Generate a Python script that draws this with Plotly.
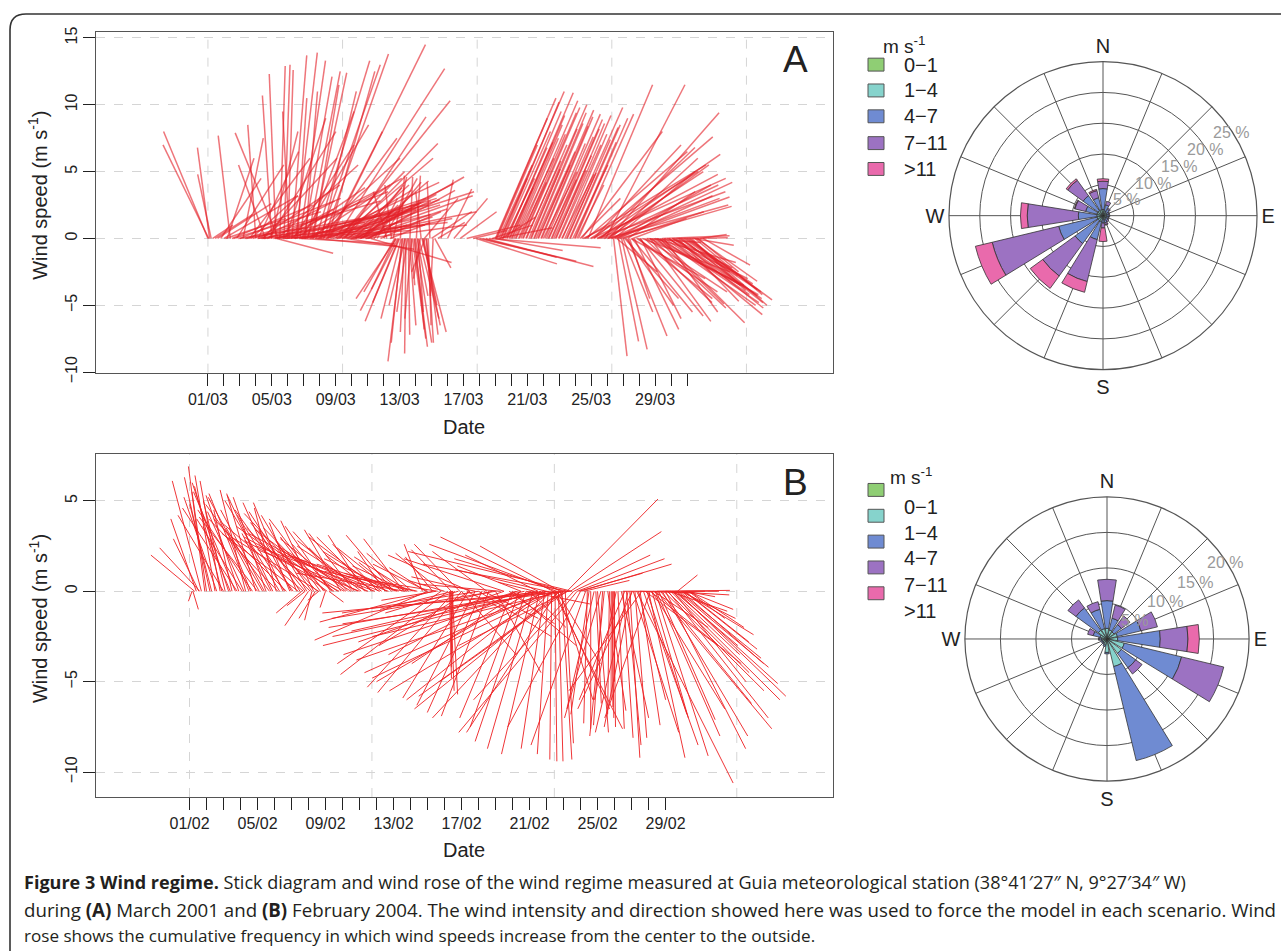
import math
import plotly.graph_objects as go

W = 1281
H_REF = 951          # reference picture height (all positions below are reference pixels)
H_FIG = 961          # page height; the photographed page is shown at 951 px

# ---------------- Panel A : March 2001 sticks (day since 01/03 00:00, u, v in m s-1)
a_time = [
    0.00, 0.05, 0.10, 0.20, 0.30, 0.45, 0.60, 0.80, 1.00, 1.20, 1.40, 1.60,
    1.80, 2.00, 2.20, 2.40, 2.60, 2.80, 3.00, 3.20, 3.40, 3.50, 3.60, 3.80,
    4.00, 4.10, 4.26, 4.30, 4.40, 4.50, 4.60, 4.70, 4.76, 4.90, 5.00, 5.10,
    5.26, 5.40, 5.50, 5.60, 5.76, 5.80, 5.90, 6.00, 6.10, 6.26, 6.40, 6.50,
    6.60, 6.76, 6.80, 6.90, 7.00, 7.10, 7.26, 7.40, 7.50, 7.64, 7.80, 8.00,
    8.10, 8.26, 8.40, 8.50, 8.60, 8.70, 8.80, 8.90, 9.00, 9.10, 9.20, 9.30,
    9.40, 9.50, 9.60, 9.70, 9.80, 9.90, 10.00, 10.20,
    1.1, 1.5, 1.9, 2.3, 2.7, 3.1, 3.3, 3.7, 4.2, 4.45, 4.8, 5.2, 5.45, 5.7,
    6.05, 6.35, 6.7, 7.05, 7.35, 7.7, 8.05, 8.35, 8.65, 8.95, 9.25, 9.55, 9.85, 10.1,
    3.15, 3.45, 3.95, 4.35, 4.85, 5.35, 5.85, 6.2, 6.55, 7.2, 7.55, 8.2,
    10.4, 10.6, 10.8, 11.0, 11.2, 11.4, 11.5, 11.6, 11.7, 11.8, 11.9, 12.0,
    12.05, 12.1, 12.2, 12.3, 12.4, 12.5, 12.6, 12.65, 12.7, 12.8, 12.9, 13.0,
    13.05, 13.1, 13.2, 13.3, 13.35, 13.4, 13.5, 13.55, 13.6, 13.7, 13.8, 13.9,
    14.0, 14.1, 14.2, 14.4,
    11.75, 11.95, 12.15, 12.35, 12.55, 12.75, 12.95, 13.15, 13.45, 13.65,
    14.6, 15.0, 15.4, 15.8, 16.2, 16.6, 16.8, 17.0, 17.2, 17.4, 17.6, 17.8,
    18.0, 18.2, 18.4,
    18.0, 18.1, 18.2, 18.35, 18.5, 18.6, 18.75, 18.9, 19.0, 19.15, 19.3, 19.45,
    19.6, 19.75, 19.9, 20.1, 20.25, 20.4, 20.55, 20.7, 20.85, 21.0, 21.2, 21.35,
    21.5, 21.65, 21.8, 22.0, 22.15, 22.35, 22.5, 22.7, 22.85, 23.0, 23.2,
    18.05, 18.3, 18.45, 18.7, 18.85, 19.05, 19.25, 19.5, 19.7, 19.95, 20.2, 20.45,
    20.65, 20.9, 21.1, 21.3, 21.55, 21.75, 21.95, 22.2, 22.45, 22.65, 22.95, 23.1,
    23.3, 23.4, 23.5, 23.6, 23.8, 24.0, 24.2, 24.4, 24.5, 24.7, 24.9, 25.0,
    25.1, 25.2, 25.3, 25.5, 25.6, 25.8, 26.0, 26.3, 26.6,
    23.7, 23.95, 24.15, 24.35, 24.6, 24.8, 25.05, 25.25, 25.45, 25.7,
    25.4, 25.6, 25.7, 25.9, 26.0, 26.1, 26.3, 26.4, 26.5, 26.7, 26.85, 27.05,
    27.2, 27.35, 27.5, 27.65, 27.8, 28.0, 28.15, 28.3, 28.45, 28.6, 28.75, 28.9,
    29.05, 29.2, 29.35, 29.5, 29.6, 29.8, 30.0, 30.2, 30.4, 30.6, 30.8, 31.0,
    26.2, 26.55, 26.95, 27.1, 27.45, 27.7, 27.9, 28.1, 28.4, 28.55,
    28.85, 29.1, 29.3, 29.45, 29.7, 29.9, 30.1, 30.3, 30.5, 30.7,
]
a_u = [
    -3.3, -3.4, -0.9, -1.0, 1.5, 2.8, 4.0, 3.0, 5.5, 2.0, -0.9, 6.5,
    3.5, 7.5, 1.5, 8.5, 4.5, 9.5, -0.6, 6.0, 10.5, 8.0, -2.0, 5.0,
    -0.7, 11.5, -0.5, 4.2, -3.2, 0.4, 7.0, 9.5, 0.45, 12.0, 0.4, -0.5,
    1.1, 8.0, 1.6, 0.7, 1.9, 7.0, 10.0, 2.1, 0.9, 2.4, 6.0, 2.6,
    1.9, 4.0, 6.0, 9.0, 4.5, 2.6, 4.8, 11.0, 3.5, 7.1, 8.0, 8.1,
    5.0, 8.2, 10.0, 7.0, 6.0, 5.0, 4.5, 6.0, 9.0, 4.0, 3.5, 8.0,
    7.0, 6.5, 5.0, 3.0, 2.5, 7.5, 6.5, 6.0,
    4.5, 6.0, 5.0, 7.0, 3.5, 8.0, 5.5, 9.0, 6.5, 4.0, 10.0, 5.5, 7.5, 4.0,
    9.0, 6.0, 7.5, 5.0, 8.5, 6.0, 7.0, 4.5, 8.0, 5.5, 6.0, 4.5, 5.0, 3.5,
    3.0, 5.5, 2.0, 6.0, 3.0, 4.5, 5.0, 3.5, 6.5, 5.5, 4.0, 7.0,
    3.5, 1.5, 4.5, 2.5, -1.0, 3.0, -0.5, 1.0, -2.3, -3.0, -2.8, -2.0,
    0.3, -1.5, -1.1, -0.3, -0.1, -0.8, 0.5, 0.2, 0.3, 1.0, 1.0, 1.2,
    0.3, 0.8, 1.5, -0.5, -0.4, 1.8, 1.0, 2.5, -1.0, 0.5, 0.2, -0.2,
    3.0, -0.2, 1.2, 2.0,
    -1.8, -2.5, -0.8, -1.2, 0.1, -0.5, 0.7, 0.4, 1.3, 0.9,
    0.9, 1.8, 2.5, 2.7, 4.0, 2.5, 6.0, 7.2, 5.5, 8.0, 8.3, 3.0,
    5.0, 4.0, 2.5,
    4.5, 3.0, 2.5, 4.7, 3.5, 2.2, 4.0, 3.2, 4.6, 3.6, 2.8, 4.4,
    3.3, 4.2, 2.6, 4.3, 3.4, 3.9, 2.9, 4.1, 3.5, 2.5, 4.0, 3.3,
    3.8, 2.8, 3.6, 3.1, 2.4, 4.3, 3.2, 3.7, 2.6, 3.9, 4.1,
    3.8, 2.0, 4.2, 3.0, 1.8, 3.9, 3.2, 2.0, 4.0, 3.0, 2.2, 3.6,
    2.4, 3.8, 3.0, 2.1, 3.5, 2.3, 3.9, 3.3, 2.2, 3.6, 3.1, 2.0,
    3.0, 6.0, 2.0, 9.0, 4.8, 10.0, 8.8, 9.5, 9.0, 7.5, 5.9, 9.0,
    8.2, 6.5, 8.0, 8.5, 7.0, 8.3, 6.0, 5.0, 4.0,
    7.5, 8.0, 6.5, 9.0, 7.0, 8.5, 7.5, 9.0, 6.0, 7.0,
    1.0, 3.0, 1.5, 1.9, 2.2, 4.0, 2.9, 1.5, 5.5, 3.3, 6.0, 4.7,
    6.5, 5.0, 4.0, 7.0, 5.5, 6.0, 7.5, 6.3, 5.0, 7.0, 6.0, 6.9,
    4.5, 6.5, 3.8, 5.8, 5.7, 4.0, 5.5, 5.7, 3.0, 4.5, 2.0, 3.5,
    3.5, 4.5, 5.5, 3.0, 6.0, 4.5, 6.5, 5.0, 7.0, 4.0,
    6.0, 5.0, 6.5, 4.5, 6.0, 5.0, 6.2, 4.0, 5.0, 3.0,
]
a_v = [
    8.0, 7.0, 6.8, 4.8, 1.0, 1.8, 2.6, 4.5, 3.2, 6.0, 7.7, 2.0,
    5.5, 3.0, 7.5, 1.5, 6.0, 2.8, 8.5, 4.0, 2.0, 0.8, 5.5, 8.0,
    10.7, 2.5, 12.3, -1.1, 7.9, 12.9, 3.5, 0.6, 13.0, 1.2, 12.6, 9.5,
    13.7, 4.5, 13.9, 10.5, 13.3, -0.4, 3.0, 12.1, 11.0, 12.5, 2.0, 12.4,
    11.5, 13.3, -0.6, 4.2, 13.0, 11.0, 13.8, 3.5, 12.5, 14.5, 2.5, 12.7,
    5.0, 10.3, 2.0, 7.1, 9.1, -0.8, 4.0, 2.8, 3.2, 1.0, 3.8, 4.6,
    1.5, 2.2, 4.3, 4.0, 2.5, 1.0, 3.6, -1.8,
    1.5, 2.5, 0.8, 2.0, 3.2, 1.2, 2.8, 3.5, 0.9, 2.2, 2.6, 3.8, 1.8, 0.5,
    3.0, 4.0, 2.2, 1.4, 2.9, 3.6, 1.8, 2.4, 4.1, 1.0, 3.3, 2.7, 1.6, 2.1,
    6.5, 6.0, 8.0, 5.5, 9.0, 7.0, 8.5, 9.5, 6.0, 7.5, 8.0, 6.0,
    4.2, 3.0, 2.0, 4.5, 3.5, 1.2, 4.0, 4.6, -4.0, -4.5, -5.4, -4.8,
    4.7, -6.0, -9.2, -7.0, -8.6, -5.5, -6.5, 4.6, -3.5, -7.5, -8.1, -7.8,
    4.7, -4.3, -6.0, -3.0, 3.5, -7.0, -5.0, 3.0, -2.5, -7.8, -6.5, 4.2,
    2.0, -4.3, -2.2, 1.2,
    -3.8, -6.2, -7.8, -5.0, -7.2, -6.0, -6.8, -5.5, -6.5, -7.2,
    4.4, 3.7, 3.0, 2.0, 1.0, 0.6, -1.9, -1.7, -1.4, -2.1, -0.7, 1.0,
    -0.9, 0.8, 1.6,
    10.5, 7.0, 5.5, 11.0, 8.0, 4.5, 9.5, 7.2, 10.9, 8.5, 6.0, 10.3,
    7.8, 9.8, 5.8, 10.0, 8.2, 9.4, 6.5, 9.6, 8.4, 5.0, 9.3, 7.6,
    8.9, 6.2, 8.6, 7.0, 4.8, 9.8, 7.4, 8.5, 5.5, 9.0, 9.3,
    9.0, 4.5, 10.2, 6.8, 3.8, 9.2, 7.5, 4.2, 9.4, 7.0, 5.2, 8.6,
    5.5, 9.1, 7.1, 4.4, 8.2, 5.1, 9.2, 7.8, 4.9, 8.3, 7.2, 4.0,
    3.0, 8.0, 1.0, 5.5, 11.5, 4.5, 7.6, 3.5, 6.3, 5.0, 11.5, 2.5,
    9.4, 6.0, 3.0, 3.1, 4.0, 2.4, 2.0, 3.5, 1.5,
    6.5, 5.0, 7.0, 4.8, 6.8, 4.0, 5.5, 4.2, 5.0, 3.2,
    -8.8, -2.5, -7.7, -8.3, -5.5, -4.5, -7.3, -4.5, -3.0, -6.8, -4.0, -5.8,
    -2.5, -4.8, -0.3, -3.5, -5.2, -1.8, -4.2, -6.3, 0.2, -4.8, -3.0, -5.7,
    -2.2, -4.5, 0.05, -3.8, -4.3, -2.8, -4.0, -5.0, -0.5, -3.2, 0.3, -2.0,
    -5.0, -5.5, -4.5, -6.0, -4.0, -6.2, -3.5, -4.9, -5.0, -5.5,
    -4.2, -3.5, -5.2, -4.7, -4.8, -3.4, -4.6, -3.9, -4.2, -2.5,
]

# ---------------- Panel B : February 2004 sticks (day since 01/02 00:00, u, v in m s-1)
b_time = [
    0.15, 0.20, 0.30, 0.40, 0.55, 0.60, 0.70, 0.90, 1.20, 1.50, 1.80,
    1.9, 2.1, 2.3, 2.5, 2.7, 2.9, 3.1, 3.3, 3.5, 3.7, 3.9, 4.1,
    4.3, 4.5, 4.7, 4.9, 5.1, 5.3, 5.5, 5.7, 5.9, 6.1, 6.3, 6.5,
    6.7, 6.9, 7.1, 7.3, 7.5, 7.7, 7.9, 8.1, 8.3, 8.5, 8.7, 8.9,
    9.1, 9.3, 9.5, 9.7, 9.9, 10.1, 10.3, 10.5, 10.7, 10.9, 11.1, 11.3,
    11.5, 11.7, 11.9, 12.1, 12.3, 12.5, 12.7, 12.9, 13.1, 13.4, 13.7, 14.0, 14.3, 14.6,
    12.0, 12.6, 14.8, 15.4, 15.9,
    1.0, 1.3, 1.6, 2.0, 2.4, 2.8, 3.2, 3.6, 4.0, 4.4, 4.8, 5.2, 5.6, 6.0, 6.4, 6.8,
    7.2, 7.6, 8.0, 8.4, 8.8, 9.2, 9.6, 10.0, 10.4, 10.8, 11.2, 11.6, 12.2, 12.8, 13.3, 13.9,
    6.6, 6.8, 7.0, 7.2, 7.4, 7.6, 8.0, 8.2,
    14.0, 14.3, 14.8, 15.2, 15.6, 16.0, 16.4, 16.8, 17.2, 17.6, 19.0, 19.4,
    19.8, 20.2, 20.6, 20.9, 21.1, 21.3, 21.5, 21.7, 21.9, 22.1,
    20.5, 20.7, 21.0, 21.2, 21.4, 21.6, 21.8, 22.0, 22.2, 22.4, 18.0, 18.5,
    17.0, 19.5, 16.5, 15.5, 22.6, 23.0, 23.3, 22.8,
    19.2, 19.7, 20.1, 20.3, 20.8, 21.05, 21.25, 21.45, 21.65, 21.85, 22.05, 22.25,
    15.3, 15.35, 15.4, 15.45, 15.5,
    21.4, 21.6, 21.8, 22.0, 21.0, 22.3, 20.5, 19.5, 18.5, 17.5, 16.5, 22.5,
    16.0, 17.0, 18.0, 19.0, 20.0, 21.4, 21.5, 21.8, 21.6,
    14.5, 15.0, 15.8, 16.3, 16.8, 17.3, 17.8, 18.3, 18.8, 19.3, 19.8, 20.3,
    22.2, 22.4, 22.6, 22.8, 23.0, 22.9, 23.2,
    23.4, 23.6, 24.0, 24.7, 24.8, 24.85, 24.9, 24.95, 25.0, 25.2, 25.5, 25.9,
    26.2, 26.5, 27.0, 27.2, 27.4, 27.6, 26.3, 27.8, 28.0, 27.5, 28.6, 28.8,
    29.0, 28.4, 28.2, 29.2,
    23.8, 24.2, 24.4, 25.6, 26.0, 26.6, 27.1, 25.8, 26.05,
    26.8, 27.1, 27.3, 27.9, 28.1, 28.3, 28.5, 28.7, 28.9, 29.1, 29.3, 29.4,
    23.5, 23.9, 24.3, 24.6, 25.1, 25.4, 25.7, 26.1, 26.4, 26.7,
    26.9, 27.2, 27.45, 27.7, 28.15, 28.45, 28.65, 28.95, 29.15, 29.35,
    28.7, 25.5, 26.5, 27.5, 28.0, 29.0,
]
b_u = [
    -0.2, 0.3, -2.4, -1.4, -1.4, -2.2, -1.6, -0.9, -1.4, -1.1, -1.1,
    -1.5, -1.2, -2.0, -1.0, -2.3, -1.8, -2.5, -1.4, -2.2, -3.0, -1.6, -2.8,
    -2.0, -1.8, -3.5, -2.5, -1.2, -3.0, -2.2, -4.0, -2.0, -3.2, -1.5, -2.8,
    -4.5, -2.5, -3.5, -1.8, -4.0, -2.2, -3.0, -5.0, -2.5, -3.5, -4.5, -2.0,
    -5.5, -3.0, -4.0, -2.5, -6.0, -3.5, -2.0, -5.0, -3.0, -6.5, -2.5, -4.0,
    -1.5, -5.5, -3.0, -2.0, -4.5, -1.5, -6.0, -3.0, -2.5, -4.0, -1.0, -3.0, -1.5, -5.0,
    -2.6, -2.2, -2.5, -2.2, -2.5,
    -0.8, -1.2, -1.8, -2.5, -1.5, -3.0, -2.0, -1.2, -3.2, -2.4, -1.6, -3.8, -2.6, -1.8, -4.2, -3.0,
    -2.0, -4.8, -3.4, -2.2, -5.2, -3.6, -2.4, -5.6, -3.8, -2.6, -5.0, -3.5, -4.0, -3.0, -5.0, -2.0,
    -1.4, -1.0, -1.3, -0.4, -0.9, -0.6, -0.3, 0.8,
    -6.2, -6.2, -5.7, -5.9, -4.8, -4.6, -3.6, -3.2, -3.0, -2.6, -2.9, -2.7,
    -2.8, -2.5, -2.1, -1.3, -0.6, -0.1, 0.1, 0.25, 0.55, 0.45,
    -11.5, -12.0, -10.0, -12.5, -9.0, -11.0, -8.0, -10.5, -7.0, -9.5, -9.0, -8.0,
    -7.5, -6.0, -5.0, -4.0, -5.5, -4.0, -3.0, -6.5,
    -7.0, -9.5, -8.5, -10.5, -7.5, -11.8, -6.5, -10.0, -5.0, -12.0, -8.0, -6.0,
    0.1, 0.2, 0.0, 0.3, -0.1,
    -6.2, -7.0, -4.4, -6.0, -5.0, -8.0, -4.0, -3.5, -5.5, -3.0, -4.5, -9.0,
    3.0, 4.0, 2.5, 3.5, 2.0, 3.8, 3.0, 1.8, 2.4,
    -3.0, -2.0, -4.0, 2.0, -3.5, 3.0, -2.5, -4.5, 2.5, -3.0, 3.5, -2.0,
    5.0, 5.0, 4.2, 4.8, 5.0, 3.5, 2.5,
    -0.2, 0.0, 0.6, -0.1, 0.0, 0.1, 0.0, 0.1, 0.0, 0.35, 0.55, 0.55,
    0.65, 1.1, 2.0, 2.0, 2.9, 3.1, 5.3, 4.7, 4.4, 6.3, 5.6, 4.5,
    3.9, 3.7, 3.2, 1.6,
    -1.5, -2.0, -0.8, -2.5, -1.5, -4.0, -2.5, -1.8, -3.0,
    4.0, 5.0, 3.0, 5.5, 4.5, 6.0, 3.5, 5.0, 3.0, 4.0, 2.5, 3.0,
    -1.0, 0.3, -0.5, 1.0, -1.2, 1.5, 0.8, 2.5, 1.5, 3.0,
    2.2, 4.0, 3.5, 5.0, 5.5, 4.0, 6.0, 4.5, 3.5, 2.0,
    1.1, 4.5, 3.0, 4.0, 3.5, 2.0,
]
b_v = [
    -0.55, -1.0, 2.0, 4.0, 2.9, 2.4, 6.1, 6.9, 6.3, 6.4, 6.1,
    5.8, 5.0, 6.0, 4.5, 5.5, 5.3, 4.0, 5.6, 5.4, 4.5, 5.4, 5.2,
    3.5, 5.2, 4.8, 5.3, 4.6, 5.0, 4.9, 4.0, 4.9, 4.5, 3.8, 4.4,
    3.8, 4.2, 3.5, 3.9, 4.3, 3.0, 4.0, 3.6, 3.6, 2.5, 3.4, 3.4,
    3.0, 3.3, 2.5, 3.2, 3.2, 2.8, 3.1, 2.2, 3.0, 2.5, 2.6, 3.0,
    2.2, 2.0, 2.4, 1.6, 1.5, 1.2, 1.0, 1.9, 2.1, 1.0, 2.6, 1.5, 1.9, 0.8,
    3.1, 2.9, 2.1, 2.3, 2.6,
    5.5, 4.8, 5.2, 4.2, 3.6, 4.6, 4.4, 3.0, 4.1, 4.5, 3.2, 4.0, 4.2, 3.4, 3.2, 3.8,
    2.8, 3.0, 3.5, 2.6, 2.8, 2.9, 2.4, 2.3, 2.5, 2.0, 2.0, 2.2, 1.8, 1.4, 1.1, 1.3,
    -1.2, -0.8, -1.9, -1.6, -1.5, -0.5, -0.9, -0.6,
    -2.7, -1.7, -4.0, -4.6, -5.3, -5.6, -5.9, -6.3, -6.7, -6.9, -7.0, -7.5,
    -8.3, -8.7, -9.0, -8.7, -9.0, -9.3, -9.4, -9.4, -9.3, -8.4,
    -2.0, -3.0, -4.5, -1.2, -5.5, -3.8, -6.5, -2.5, -5.0, -0.8, -1.5, -2.8,
    -1.2, -4.0, -3.0, -1.0, -6.0, -7.5, -8.5, -7.8,
    -3.5, -2.2, -5.0, -3.5, -6.0, -2.5, -7.0, -4.8, -7.8, -1.8, -5.8, -3.0,
    -4.8, -5.5, -4.2, -5.7, -3.5,
    3.0, 2.6, 2.5, 1.8, 1.2, 1.5, 2.0, 1.4, 1.8, 2.2, 2.0, 2.2,
    -3.5, -2.5, -4.5, -3.0, -2.0, -7.6, -6.5, -6.0, -4.0,
    -0.5, 0.6, -1.2, -1.0, 0.8, -1.5, -0.6, 0.4, -1.8, -0.9, -0.7, 0.5,
    5.1, 3.3, 2.0, 1.8, 1.5, 1.0, 0.6,
    -7.3, -7.6, -7.8, -6.8, -6.0, -7.0, -6.4, -7.5, -5.0, -7.6, -8.1, -9.2,
    -8.1, -7.4, -9.2, -7.0, -9.1, -7.1, -10.6, -8.0, -8.7, -7.6, -5.1, -3.7,
    -2.4, -3.5, -1.1, -0.3,
    -6.5, -7.0, -8.0, -6.0, -7.5, -5.5, -7.0, -7.8, -6.5,
    -3.0, -4.0, -2.0, -5.5, -4.5, -6.0, -3.0, -4.2, -1.5, -3.2, -1.0, -2.0,
    -6.8, -6.2, -7.4, -6.6, -6.0, -7.0, -8.5, -7.8, -6.0, -8.5,
    -6.8, -6.5, -8.0, -6.2, -7.0, -5.0, -5.8, -4.0, -2.8, -1.5,
    0.9, 0.0, -0.1, 0.05, -0.2, 0.0,
]
assert len(a_time) == len(a_u) == len(a_v)
assert len(b_time) == len(b_u) == len(b_v)

# date axes
a_days = list(range(0, 31))
a_day_labels = ["01/03", "05/03", "09/03", "13/03", "17/03", "21/03", "25/03", "29/03"]
b_days = list(range(0, 29))
b_day_labels = ["01/02", "05/02", "09/02", "13/02", "17/02", "21/02", "25/02", "29/02"]
a_grid_days = [0, 8.43, 16.86, 25.29, 33.72]
b_grid_days = [0, 10.73, 21.46, 32.19]
y_ticks_a = [-10, -5, 0, 5, 10, 15]
y_ticks_b = [-10, -5, 0, 5]

# ---------------- Wind roses: frequency (%) per direction and speed class
directions = [0, 22.5, 45, 67.5, 90, 112.5, 135, 157.5, 180, 202.5, 225, 247.5, 270, 292.5, 315, 337.5]
speed_bins = ["0\u22121", "1\u22124", "4\u22127", "7\u221211", ">11"]
bin_colors = ["#8fce74", "#86d3cc", "#6f8bd2", "#9c72c2", "#e96aac"]

rose_a = [
    [0.2, 0.2, 0.2, 0.2, 0.2, 0.2, 0.2, 0.2, 0.2, 0.2, 0.2, 0.2, 0.2, 0.2, 0.2, 0.2],
    [0.8, 0.6, 0.5, 0.4, 0.4, 0.4, 0.4, 0.5, 0.4, 0.8, 0.8, 0.8, 0.8, 0.8, 0.8, 0.8],
    [3.4, 1.0, 0.6, 0.4, 0.4, 0.3, 0.4, 0.5, 0.6, 3.0, 4.6, 6.4, 3.0, 1.9, 3.0, 2.0],
    [1.2, 0.6, 0.2, 0.1, 0.1, 0.1, 0.2, 0.3, 0.8, 7.0, 6.5, 11.1, 8.3, 1.8, 3.1, 1.2],
    [0.4, 0.0, 0.0, 0.0, 0.0, 0.0, 0.0, 0.1, 2.2, 1.8, 2.5, 2.8, 1.1, 0.1, 0.3, 0.2],
]
rose_b = [
    [0.3, 0.3, 0.3, 0.3, 0.3, 0.3, 0.3, 0.3, 0.3, 0.3, 0.2, 0.2, 0.2, 0.2, 0.3, 0.3],
    [1.2, 1.0, 0.9, 1.2, 1.2, 2.2, 2.2, 3.7, 1.6, 0.6, 0.5, 0.5, 0.6, 0.8, 1.2, 1.2],
    [3.9, 1.7, 1.3, 3.4, 6.0, 8.3, 2.5, 13.6, 0.2, 0.2, 0.2, 0.2, 0.3, 1.0, 3.9, 2.8],
    [3.0, 1.9, 1.5, 2.4, 3.9, 6.1, 1.1, 0.0, 0.0, 0.0, 0.0, 0.0, 0.1, 0.8, 1.4, 1.1],
    [0.0, 0.0, 0.0, 0.0, 1.6, 0.0, 0.0, 0.0, 0.0, 0.0, 0.0, 0.0, 0.0, 0.0, 0.0, 0.0],
]
rose_a_rings = [5, 10, 15, 20, 25]
rose_b_rings = [5, 10, 15, 20]
compass = {0: "N", 90: "E", 180: "S", 270: "W"}


# ---------------- helpers (reference pixel -> paper)
def px(x):
    return x / W


def py(y):
    return 1 - y / H_REF


# stick aspect: days per (m s-1) so the x direction uses the same visual scale as y
K_A = (343 / 25.5) / 15.97
K_B = (345 / 18.95) / 17.0


def sticks(t, u, v, k):
    xs, ys = [], []
    for ti, ui, vi in zip(t, u, v):
        xs += [ti, ti + k * ui, None]
        ys += [0, vi, None]
    return xs, ys


FONT = "Liberation Sans, Arial, sans-serif"
INK = "#222222"

fig = go.Figure()
xa, ya = sticks(a_time, a_u, a_v, K_A)
fig.add_trace(go.Scatter(x=xa, y=ya, mode="lines", xaxis="x", yaxis="y",
                         line=dict(color="rgba(228,32,40,0.62)", width=1.5),
                         showlegend=False, hoverinfo="skip"))
xb, yb = sticks(b_time, b_u, b_v, K_B)
fig.add_trace(go.Scatter(x=xb, y=yb, mode="lines", xaxis="x2", yaxis="y2",
                         line=dict(color="rgba(238,36,38,0.92)", width=1.0),
                         showlegend=False, hoverinfo="skip"))

for i in range(len(speed_bins)):
    for sub, data in (("polar", rose_a), ("polar2", rose_b)):
        fig.add_trace(go.Barpolar(r=data[i], theta=directions, width=18, subplot=sub,
                                  name=speed_bins[i], showlegend=False,
                                  marker=dict(color=bin_colors[i], line=dict(color="#333333", width=0.8))))


def xaxis_cfg(domain, rng, days, labels, anchor):
    texts = [labels[d // 4] if d % 4 == 0 else "" for d in days]
    return dict(domain=domain, range=rng, tickmode="array", tickvals=days, ticktext=texts,
                ticks="outside", ticklen=12, tickcolor=INK, tickwidth=1, anchor=anchor,
                showgrid=False, zeroline=False, showline=True, linecolor="#555555",
                linewidth=1, mirror=True, tickfont=dict(family=FONT, size=16, color=INK))


def yaxis_cfg(domain, rng, ticks, anchor):
    return dict(domain=domain, range=rng, tickmode="array", tickvals=ticks,
                ticktext=[str(t).replace("-", "\u2212") for t in ticks],
                tickangle=-90, ticks="outside", ticklen=12, tickcolor=INK,
                showgrid=True, gridcolor="#d5d5d5", griddash="dash", gridwidth=1,
                zeroline=False, showline=True, linecolor="#555555", linewidth=1, mirror=True,
                tickfont=dict(family=FONT, size=16, color=INK), anchor=anchor)


def polar_cfg(domx, domy, rmax, rings):
    return dict(
        domain=dict(x=domx, y=domy), bgcolor="white", hole=0, barmode="stack",
        angularaxis=dict(rotation=90, direction="clockwise", tickmode="array",
                         tickvals=directions, ticktext=[compass.get(d, "") for d in directions],
                         ticks="", showline=True, linecolor="#555555", linewidth=1.2,
                         gridcolor="#555555", gridwidth=1, layer="above traces",
                         tickfont=dict(family=FONT, size=20, color=INK)),
        radialaxis=dict(range=[0, rmax], tickmode="array", tickvals=rings, showticklabels=False,
                        showline=False, ticks="", gridcolor="#555555", gridwidth=1,
                        layer="above traces"),
    )


# rose geometry in reference pixels: centre and outer radius
ROSE_A = dict(cx=1103, cy=212, R=155)
ROSE_B = dict(cx=1107, cy=638, R=143)


def rose_domain(g):
    return ([px(g["cx"] - g["R"]), px(g["cx"] + g["R"])],
            [py(g["cy"] + g["R"]), py(g["cy"] - g["R"])])


fig.update_layout(
    width=W, height=H_FIG, margin=dict(l=0, r=0, t=0, b=0),
    paper_bgcolor="white", plot_bgcolor="white",
    xaxis=xaxis_cfg([px(96), px(833)], [-7.01, 39.14], a_days, a_day_labels, "y"),
    yaxis=yaxis_cfg([py(370), py(27)], [-10.04, 15.46], y_ticks_a, "x"),
    xaxis2=xaxis_cfg([px(96), px(833)], [-5.5, 37.85], b_days, b_day_labels, "y2"),
    yaxis2=yaxis_cfg([py(797), py(452)], [-11.37, 7.58], y_ticks_b, "x2"),
    polar=polar_cfg(*rose_domain(ROSE_A), 25, rose_a_rings),
    polar2=polar_cfg(*rose_domain(ROSE_B), 20, rose_b_rings),
    showlegend=False,
)

shapes = []
for g in a_grid_days:
    shapes.append(dict(type="line", xref="x", yref="y domain", x0=g, x1=g, y0=0, y1=1,
                       line=dict(color="#d5d5d5", width=1, dash="dash"), layer="below"))
for g in b_grid_days:
    shapes.append(dict(type="line", xref="x2", yref="y2 domain", x0=g, x1=g, y0=0, y1=1,
                       line=dict(color="#d5d5d5", width=1, dash="dash"), layer="below"))
# outer rounded frame of the figure
fx, fy, rad = 10, 9, 16
shapes.append(dict(type="path", xref="paper", yref="paper",
                   path=(f"M {px(fx)} {py(H_FIG + 20)} L {px(fx)} {py(fy + rad)} "
                         f"Q {px(fx)} {py(fy)} {px(fx + rad)} {py(fy)} L {px(W + 5)} {py(fy)}"),
                   line=dict(color="#333333", width=1.6)))

annotations = []


def note(x, y, text, size, color=INK, xanchor="center", family=FONT, angle=0):
    annotations.append(dict(xref="paper", yref="paper", x=px(x), y=py(y), text=text,
                            showarrow=False, xanchor=xanchor, yanchor="middle", textangle=angle,
                            font=dict(family=family, size=size, color=color)))


# ring labels of the roses, laid along a line about 33 deg above east
for g, rings, rmax in ((ROSE_A, rose_a_rings, 25), (ROSE_B, rose_b_rings, 20)):
    for r in rings:
        d = g["R"] * r / rmax - 2
        note(g["cx"] + d * math.cos(math.radians(33)), g["cy"] - d * math.sin(math.radians(33)),
             f"{r} %", 16, color="#9a9a9a")

# legends (manual, so that rose B keeps its shifted labels)
legend_a_rows = [60, 86, 112, 139, 165]
legend_b_rows = [488, 514, 540, 566, 592]
legend_b_text_rows = [505, 531, 557, 584, 610]
for i in range(len(speed_bins)):
    for yc in (legend_a_rows[i], legend_b_rows[i]):
        shapes.append(dict(type="rect", xref="paper", yref="paper",
                           x0=px(868), x1=px(884), y0=py(yc + 6.5), y1=py(yc - 6.5),
                           fillcolor=bin_colors[i], line=dict(color="#555555", width=1)))
    note(902, legend_a_rows[i], speed_bins[i], 20, xanchor="left")
    note(902, legend_b_text_rows[i], speed_bins[i], 20, xanchor="left")
note(881, 40, "m s<sup>-1</sup>", 19, xanchor="left")
note(888, 474, "m s<sup>-1</sup>", 19, xanchor="left")

# panel letters, axis titles
note(795, 55, "A", 37)
note(795, 481, "B", 37)
note(464, 425, "Date", 20)
note(464, 850, "Date", 20)
note(38, 192, "Wind speed (m s<sup>-1</sup>)", 20, angle=-90)
note(38, 618, "Wind speed (m s<sup>-1</sup>)", 20, angle=-90)

# caption
caption = [
    "<b>Figure 3 Wind regime.</b> Stick diagram and wind rose of the wind regime measured at Guia "
    "meteorological station (38\u00b041\u203227\u2033 N, 9\u00b027\u203234\u2033 W)",
    "during <b>(A)</b> March 2001 and <b>(B)</b> February 2004. The wind intensity and direction "
    "showed here was used to force the model in each scenario. Wind",
    "rose shows the cumulative frequency in which wind speeds increase from the center to the outside.",
]
for line, yc, size in zip(caption, (883, 910, 936), (18.05, 18.7, 17.1)):
    note(22, yc, line, size, color="#231f20", xanchor="left", family="Open Sans, sans-serif")

fig.update_layout(shapes=shapes, annotations=annotations)
fig.write_html("out.html", config={"displayModeBar": False},
               post_script="document.body.style.margin='0';document.body.style.overflow='hidden';")
